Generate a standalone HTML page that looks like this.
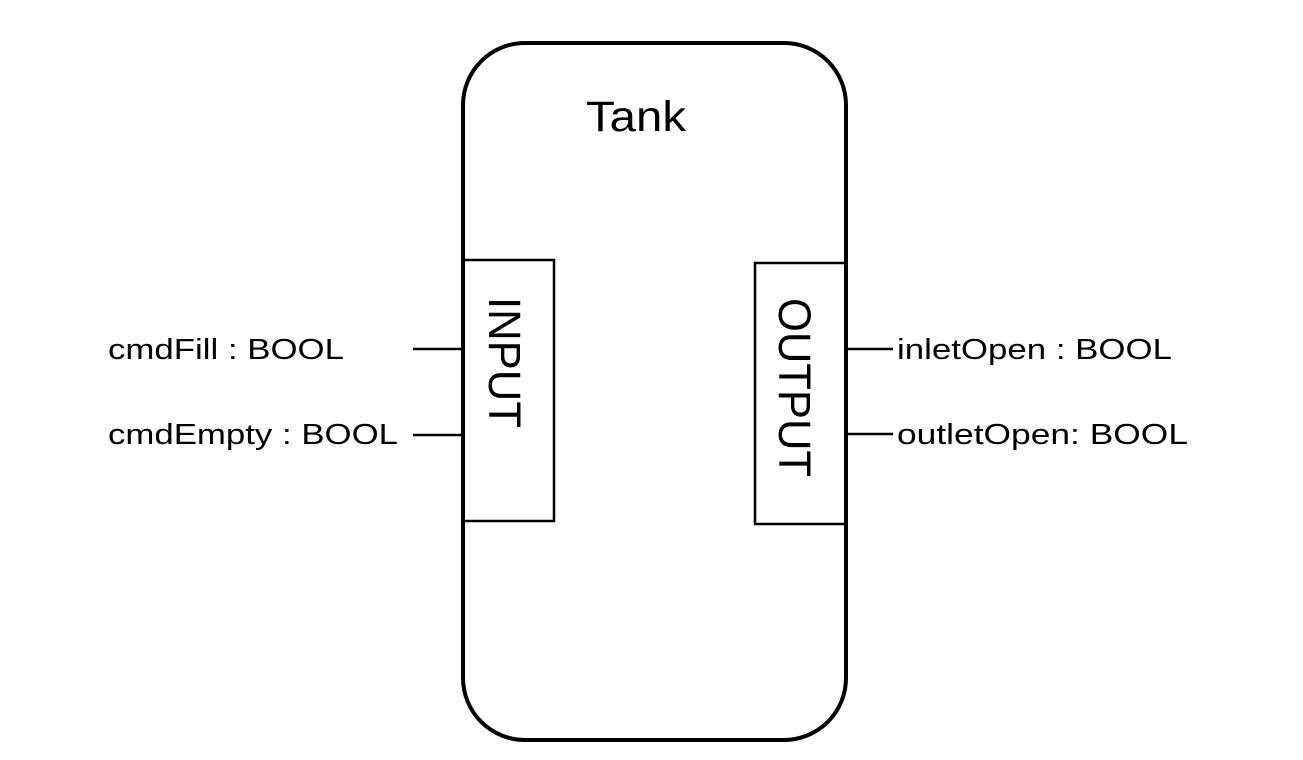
<!DOCTYPE html>
<html><head><meta charset="utf-8"><style>
html,body{margin:0;padding:0;background:#fff;}
svg{display:block;}
text{font-family:"Liberation Sans",sans-serif;fill:#000;}
</style></head><body>
<svg width="1303" height="760" viewBox="0 0 1303 760" xmlns="http://www.w3.org/2000/svg">
<rect x="463" y="43" width="383" height="697" rx="62" ry="62" fill="#fff" stroke="#000" stroke-width="4"/>
<rect x="463" y="260" width="91" height="261" fill="#fff" stroke="#000" stroke-width="2.5"/>
<rect x="755" y="263" width="91" height="261" fill="#fff" stroke="#000" stroke-width="2.5"/>
<line x1="463" y1="260" x2="463" y2="521" stroke="#000" stroke-width="4"/>
<line x1="846" y1="263" x2="846" y2="524" stroke="#000" stroke-width="4"/>
<line x1="413" y1="349" x2="462" y2="349" stroke="#000" stroke-width="2.5"/>
<line x1="413" y1="435" x2="462" y2="435" stroke="#000" stroke-width="2.5"/>
<line x1="847" y1="349" x2="893" y2="349" stroke="#000" stroke-width="2.5"/>
<line x1="847" y1="434" x2="893" y2="434" stroke="#000" stroke-width="2.5"/>
<text x="586" y="131" font-size="43" textLength="100" lengthAdjust="spacingAndGlyphs">Tank</text>
<text transform="translate(489,297) rotate(90)" font-size="45" textLength="131" lengthAdjust="spacingAndGlyphs">INPUT</text>
<text transform="translate(779,298) rotate(90)" font-size="45" textLength="179" lengthAdjust="spacingAndGlyphs">OUTPUT</text>
<text x="108" y="359" font-size="29" textLength="236" lengthAdjust="spacingAndGlyphs">cmdFill : BOOL</text>
<text x="108" y="444" font-size="29" textLength="290" lengthAdjust="spacingAndGlyphs">cmdEmpty : BOOL</text>
<text x="897" y="359" font-size="29" textLength="275" lengthAdjust="spacingAndGlyphs">inletOpen : BOOL</text>
<text x="897" y="444" font-size="29" textLength="291" lengthAdjust="spacingAndGlyphs">outletOpen: BOOL</text>
</svg>
</body></html>
